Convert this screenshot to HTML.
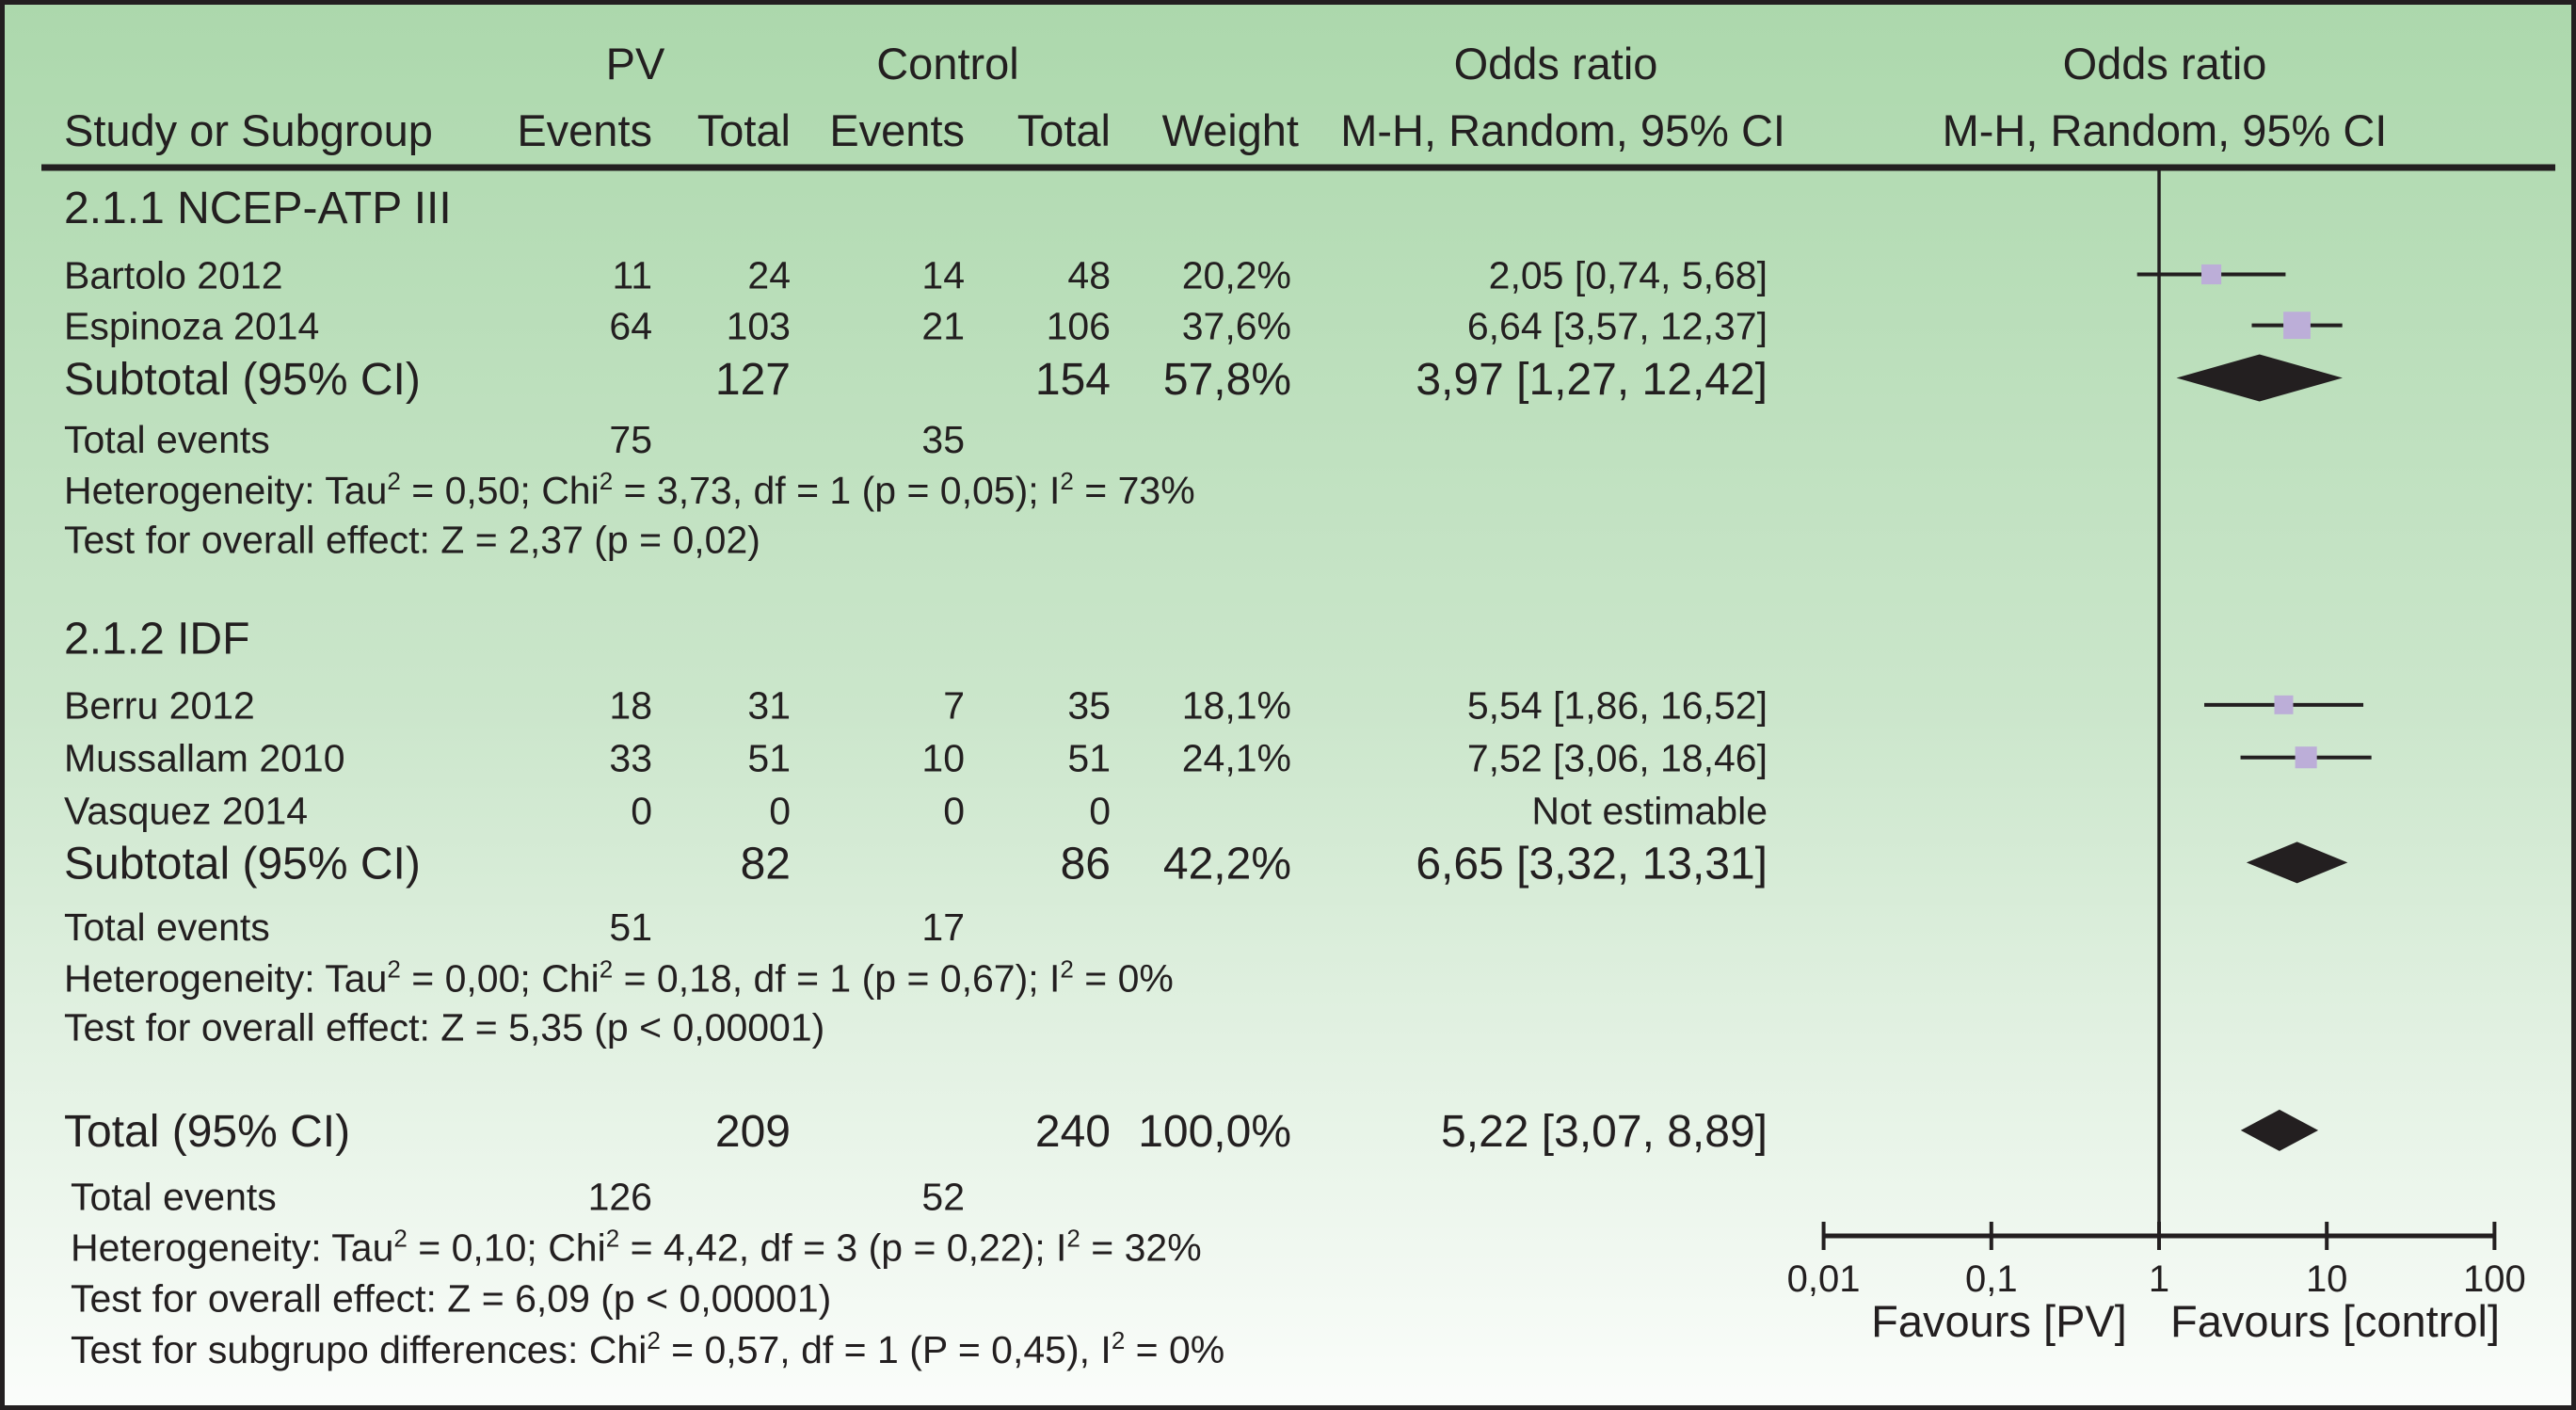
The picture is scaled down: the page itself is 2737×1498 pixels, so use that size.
<!DOCTYPE html>
<html><head><meta charset="utf-8"><style>
html,body{margin:0;padding:0;}
svg{display:block;font-family:"Liberation Sans",Arial,sans-serif;fill:#231f20;}
</style></head><body>
<svg id="chart" width="2737" height="1498" viewBox="0 0 2737 1498">
<defs><linearGradient id="bg" x1="0" y1="0" x2="0" y2="1"><stop offset="0" stop-color="#acd8ac"/><stop offset="0.5" stop-color="#cbe6cb"/><stop offset="1" stop-color="#fbfdfb"/></linearGradient></defs>
<rect x="0" y="0" width="2737" height="1498" fill="url(#bg)"/>
<rect x="2.5" y="2.5" width="2732" height="1493" fill="none" stroke="#231f20" stroke-width="5"/>
<g id="table"></g>
<g id="plot"></g>
</svg>
<script>
const studies=["Bartolo 2012","Espinoza 2014","Berru 2012","Mussallam 2010"];
const orValues=[2.05,6.64,5.54,7.52];
const ciLow=[0.74,3.57,1.86,3.06];
const ciHigh=[5.68,12.37,16.52,18.46];
const weights=[20.2,37.6,18.1,24.1];
const studyRowY=[167,198,429,461];
const subOR=[3.97,6.65,5.22];
const subLow=[1.27,3.32,3.07];
const subHigh=[12.42,13.31,8.89];
const subRowY=[230,525,688];
const tickValues=[0.01,0.1,1,10,100];
const tickLabels=["0,01","0,1","1","10","100"];

const S=2737/1568, NS="http://www.w3.org/2000/svg";
const tbl=document.getElementById('table'), plot=document.getElementById('plot');
function T(parent,x,y,txt,size,anchor,name){const t=document.createElementNS(NS,'text');t.setAttribute('x',x);t.setAttribute('y',y);t.setAttribute('font-size',size);if(anchor)t.setAttribute('text-anchor',anchor);t.innerHTML=txt;


parent.appendChild(t);return t;}
function L(x1,y1,x2,y2,w,name){const l=document.createElementNS(NS,'line');l.setAttribute('x1',x1);l.setAttribute('y1',y1);l.setAttribute('x2',x2);l.setAttribute('y2',y2);l.setAttribute('stroke','#231f20');l.setAttribute('stroke-width',w);


plot.appendChild(l);return l;}
const sup=s=>'<tspan baseline-shift="super" font-size="26">'+s+'</tspan>';
// header
const HF=47;
T(tbl,675,84,"PV",HF,"middle","pv-header");
T(tbl,1007,84,"Control",HF,"middle","control-header");
T(tbl,1653,84,"Odds ratio",HF,"middle","or-header");
T(tbl,2300,84,"Odds ratio",HF,"middle","or-plot-header");
const hy=155;
T(tbl,68,hy,"Study or Subgroup",HF,null,"study-header");
T(tbl,693,hy,"Events",HF,"end","pv-events-header");
T(tbl,840,hy,"Total",HF,"end","pv-total-header");
T(tbl,1025,hy,"Events",HF,"end","control-events-header");
T(tbl,1180,hy,"Total",HF,"end","control-total-header");
T(tbl,1380,hy,"Weight",HF,"end","weight-header");
T(tbl,1897,hy,"M-H, Random, 95% CI",HF,"end","ci-header");
T(tbl,2300,hy,"M-H, Random, 95% CI",HF,"middle","plot-ci-header");
const cols=[693,840,1025,1180,1372,1878];
const R=41, B=48;
const rows=[
 [126,"2.1.1 NCEP-ATP III",null,B,68],
 [167,"Bartolo 2012",["11","24","14","48","20,2%","2,05 [0,74, 5,68]"],R,68],
 [198,"Espinoza 2014",["64","103","21","106","37,6%","6,64 [3,57, 12,37]"],R,68],
 [230,"Subtotal (95% CI)",["","127","","154","57,8%","3,97 [1,27, 12,42]"],B,68],
 [267,"Total events",["75","","35","","",""],R,68],
 [298,"Heterogeneity: Tau"+sup("2")+" = 0,50; Chi"+sup("2")+" = 3,73, df = 1 (p = 0,05); I"+sup("2")+" = 73%",null,R,68],
 [328,"Test for overall effect: Z = 2,37 (p = 0,02)",null,R,68],
 [388,"2.1.2 IDF",null,B,68],
 [429,"Berru 2012",["18","31","7","35","18,1%","5,54 [1,86, 16,52]"],R,68],
 [461,"Mussallam 2010",["33","51","10","51","24,1%","7,52 [3,06, 18,46]"],R,68],
 [493,"Vasquez 2014",["0","0","0","0","","Not estimable"],R,68],
 [525,"Subtotal (95% CI)",["","82","","86","42,2%","6,65 [3,32, 13,31]"],B,68],
 [564,"Total events",["51","","17","","",""],R,68],
 [595,"Heterogeneity: Tau"+sup("2")+" = 0,00; Chi"+sup("2")+" = 0,18, df = 1 (p = 0,67); I"+sup("2")+" = 0%",null,R,68],
 [625,"Test for overall effect: Z = 5,35 (p &lt; 0,00001)",null,R,68],
 [688,"Total (95% CI)",["","209","","240","100,0%","5,22 [3,07, 8,89]"],B,68],
 [728,"Total events",["126","","52","","",""],R,75],
 [759,"Heterogeneity: Tau"+sup("2")+" = 0,10; Chi"+sup("2")+" = 4,42, df = 3 (p = 0,22); I"+sup("2")+" = 32%",null,R,75],
 [790,"Test for overall effect: Z = 6,09 (p &lt; 0,00001)",null,R,75],
 [821,"Test for subgrupo differences: Chi"+sup("2")+" = 0,57, df = 1 (P = 0,45), I"+sup("2")+" = 0%",null,R,75]
];
rows.forEach((r,i)=>{const y=r[0]*S+r[3]*0.36;
 T(tbl,r[4],y,r[1],r[3],null,'row-label-'+i);
 if(r[2]) r[2].forEach((v,j)=>{if(v) T(tbl,cols[j],y,v,r[3],"end",'row-'+i+'-col-'+j);});
});
// plot
const x0=2294, dec=178.2;
const xs=v=>x0+Math.log10(v)*dec;
L(44,178,2715,178,7,'header-rule');
const axisY=1313;
L(x0,178,x0,axisY,3.5,'null-line');
L(xs(tickValues[0]),axisY,xs(tickValues[tickValues.length-1]),axisY,5,'x-axis');
tickValues.forEach((v,i)=>{L(xs(v),1298,xs(v),1328,4,'x-tick');T(plot,xs(v),1372,tickLabels[i],40,"middle",'x-tick-label');});
T(plot,2124,1420,"Favours [PV]",47,"middle","favours-pv-label");
T(plot,2481,1420,"Favours [control]",47,"middle","favours-control-label");
studies.forEach((s,i)=>{const y=studyRowY[i]*S;
 L(xs(ciLow[i]),y,xs(ciHigh[i]),y,4,'ci-line');
 const sz=4.7*Math.sqrt(weights[i]);
 const r=document.createElementNS(NS,'rect');r.setAttribute('x',xs(orValues[i])-sz/2);r.setAttribute('y',y-sz/2);r.setAttribute('width',sz);r.setAttribute('height',sz);r.setAttribute('fill','#bcaed8');
 
 
 plot.appendChild(r);});
subOR.forEach((v,i)=>{const y=subRowY[i]*S, h=i===0?25:22;
 const p=document.createElementNS(NS,'polygon');
 p.setAttribute('points',[xs(subLow[i])+','+y,xs(v)+','+(y-h),xs(subHigh[i])+','+y,xs(v)+','+(y+h)].join(' '));
 p.setAttribute('fill','#231f20');
 
 
 plot.appendChild(p);});
</script>
</body></html>
